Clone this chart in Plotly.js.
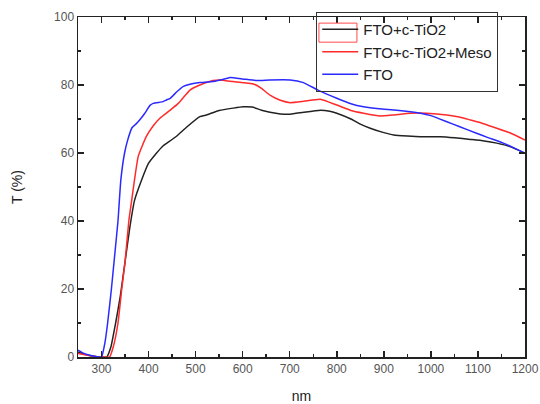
<!DOCTYPE html>
<html>
<head>
<meta charset="utf-8">
<script src="https://cdn.plot.ly/plotly-3.0.1.min.js"></script>
<style>html,body{margin:0;padding:0;background:#fff;}#chart{width:540px;height:404px;}</style>
</head>
<body>
<div id="chart"></div>
<script>
// FTO+c-TiO2 (black)
const nmBlack = [250,270,290,300,311,320,330,340,350,360,370,385,400,417,430,438,460,480,509,523,550,580,601,620,640,658,680,701,730,765,785,800,830,850,871,900,921,950,978,1000,1020,1050,1084,1110,1140,1170,1200];
const tBlack  = [1.5,0.6,0.1,0,0,3,10,18,28,38,46,52,57,60,62,62.8,65,67.5,70.7,71.2,72.5,73.2,73.6,73.5,72.6,72,71.5,71.4,72,72.6,72.3,71.7,70,68.5,67.3,66,65.3,65,64.8,64.8,64.8,64.5,64,63.6,62.9,61.8,59.9];
// FTO+c-TiO2+Meso (red)
const nmRed = [250,280,300,317,325,335,343,350,358,364,370,378,395,410,424,446,463,488,509,537,551,580,623,640,658,680,701,730,765,800,830,857,892,920,956,991,1034,1060,1084,1110,1140,1170,1200];
const tRed  = [1,0.3,0,0,3,10,20,28,40,46,52,59,64.8,68,70.2,72.6,74.6,78.5,80,81.3,81.5,81,80.3,79,77,75.5,74.8,75.2,75.8,74.1,72.5,71.7,70.9,71.2,71.7,71.7,71.2,70.6,69.7,68.7,67.3,65.8,63.8];
// FTO (blue)
const nmBlue = [250,260,275,290,300,307,313,321,328,335,341,349,356,365,373,381,392,403,410,431,438,446,460,474,490,509,537,565,573,600,630,658,701,729,760,800,830,857,890,927,978,1000,1034,1060,1097,1120,1154,1180,1200];
const tBlue  = [2,1.2,0.5,0.1,0,4,10,20,30,40,52,60,64,67.5,68.5,69.7,71.7,74,74.6,75.1,75.6,76.1,78,79.6,80.3,80.7,81,81.9,82.2,81.8,81.3,81.5,81.5,80.7,78.5,76.1,74.5,73.6,73,72.6,71.7,71,69.2,67.8,65.8,64.6,62.9,61.3,59.9];

const seriesNames = ["FTO+c-TiO2","FTO+c-TiO2+Meso","FTO"];
const xTicks = [300,400,500,600,700,800,900,1000,1100,1200];
const yTicks = [0,20,40,60,80,100];

const traces = [
  {x: nmBlack, y: tBlack, name: seriesNames[0], mode: "lines", line: {color: "#222222", width: 1.5, shape: "spline", smoothing: 0.4}},
  {x: nmRed, y: tRed, name: seriesNames[1], mode: "lines", line: {color: "#ff2a2a", width: 1.5, shape: "spline", smoothing: 0.4}},
  {x: nmBlue, y: tBlue, name: seriesNames[2], mode: "lines", line: {color: "#2a2aff", width: 1.5, shape: "spline", smoothing: 0.4}}
];

const FONT = "Liberation Sans, Arial, sans-serif";
const axisCommon = {
  showline: true, linecolor: "#222", linewidth: 1.5, mirror: "ticks",
  ticks: "inside", ticklen: 6, tickwidth: 1.5, tickcolor: "#222",
  showgrid: false, zeroline: false,
  tickfont: {family: FONT, size: 12, color: "#555"}
};

const layout = {
  width: 540, height: 404,
  margin: {l: 78, r: 15, t: 17, b: 47, autoexpand: false},
  paper_bgcolor: "#fff", plot_bgcolor: "#fff",
  showlegend: true,
  legend: {
    x: 0.533, y: 1.015, xanchor: "left", yanchor: "top",
    bgcolor: "rgba(255,255,255,0)", bordercolor: "#333333", borderwidth: 1,
    font: {family: FONT, size: 15, color: "#222"},
    tracegroupgap: 0, itemwidth: 36
  },
  xaxis: Object.assign({}, axisCommon, {
    range: [250, 1200], tickvals: xTicks, ticktext: xTicks.map(String),
    minor: {dtick: 50, ticklen: 3, tickwidth: 1.5, tickcolor: "#222", ticks: "inside"},
    title: {text: "nm", font: {family: FONT, size: 14, color: "#222"}, standoff: 16}
  }),
  yaxis: Object.assign({}, axisCommon, {
    range: [0, 100], tickvals: yTicks, ticktext: yTicks.map(String),
    minor: {dtick: 10, ticklen: 3, tickwidth: 1.5, tickcolor: "#222", ticks: "inside"},
    title: {text: "T (%)", font: {family: FONT, size: 14, color: "#222"}, standoff: 28}
  }),
  shapes: [
    {type: "rect", xref: "paper", yref: "paper", layer: "above", x0: 0.539, x1: 0.624, y0: 0.926, y1: 0.982,
     line: {color: "rgb(255,74,74)", width: 1}, fillcolor: "rgba(255,255,255,0)"}
  ]
};

Plotly.newPlot("chart", traces, layout, {displayModeBar: false, staticPlot: true});
</script>
</body>
</html>
